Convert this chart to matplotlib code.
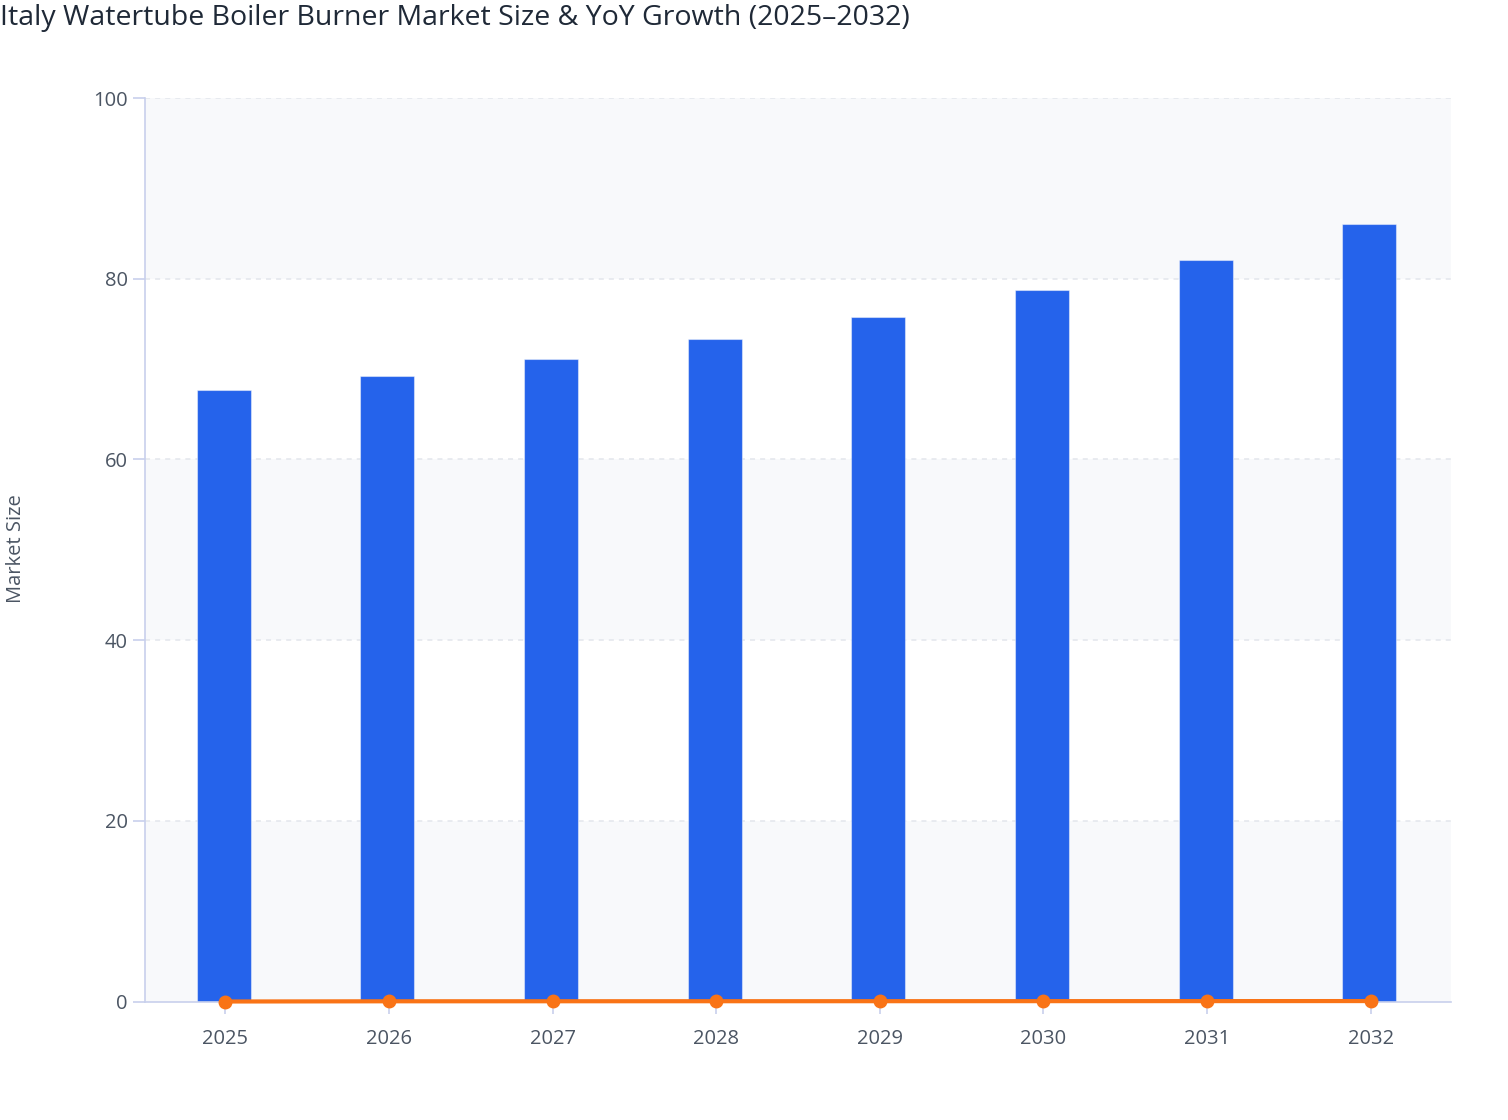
import matplotlib.pyplot as plt
import numpy as np

# data
years = ['2025', '2026', '2027', '2028', '2029', '2030', '2031', '2032']
market_size = [67.7, 69.2, 71.1, 73.3, 75.8, 78.7, 82.1, 86.0]
yoy_growth = [0.0, 0.023, 0.027, 0.031, 0.034, 0.039, 0.043, 0.048]
y_ticks = [0, 20, 40, 60, 80, 100]

plt.rcParams['font.family'] = ['Open Sans', 'DejaVu Sans']

bar_color = '#2563eb'
line_color = '#f97316'
axis_color = '#c8d0ec'
text_color = '#4b5563'

fig = plt.figure(figsize=(15.08, 11.2), dpi=100)
ax = fig.add_axes([145 / 1508, 1 - 1001.5 / 1120, 1306 / 1508, 903.5 / 1120])

x = np.arange(len(years))

# alternating bands behind the bars
for i in range(0, len(y_ticks) - 1, 2):
    ax.axhspan(y_ticks[i], y_ticks[i + 1], color='#f8f9fb', zorder=0, lw=0)

for t in y_ticks[1:]:
    ax.axhline(t, color='#e3e6ec', lw=1.1, ls=(0, (3.3, 3.3)), zorder=1)

ax.bar(x - 0.01, market_size, width=0.33, color=bar_color,
       edgecolor=(1, 1, 1, 0.45), linewidth=0.8, zorder=2)
ax.plot(x, yoy_growth, color=line_color, lw=3, marker='o', markersize=9,
        zorder=4, clip_on=False)

ax.set_xlim(-0.49, len(years) - 0.51)
ax.set_ylim(0, 100)
ax.set_xticks(x)
ax.set_xticklabels(years)
ax.set_yticks(y_ticks)

for side in ['top', 'right']:
    ax.spines[side].set_visible(False)
for side in ['left', 'bottom']:
    ax.spines[side].set_color(axis_color)
    ax.spines[side].set_linewidth(1.2)
    ax.spines[side].set_zorder(3)

ax.tick_params(axis='both', colors=axis_color, length=8.5, width=1.2,
               labelcolor=text_color, labelsize=14.5)
ax.tick_params(axis='x', pad=11)
ax.tick_params(axis='y', pad=4)

fig.text(16 / 1508, 1 - 549 / 1120, 'Market Size', rotation=90,
         ha='center', va='center', fontsize=14.5, color=text_color)

fig.text(0.0, 1 - 18 / 1120, 'Italy Watertube Boiler Burner Market Size & YoY Growth (2025\u20132032)',
         ha='left', va='center', fontsize=20.5, fontweight='medium', color='#1f2937')

fig.savefig('out.png', dpi=100)
